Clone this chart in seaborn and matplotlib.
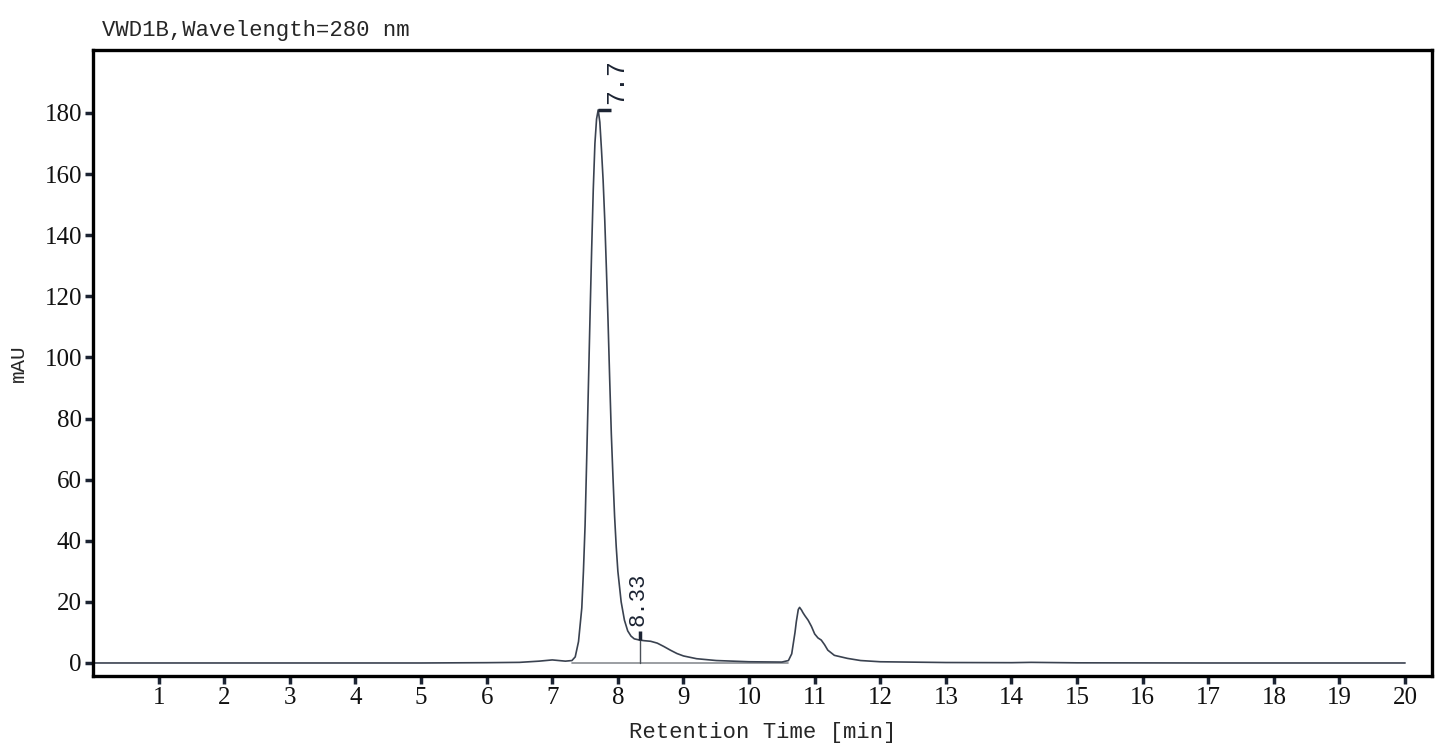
import numpy as np
import pandas as pd
import matplotlib
matplotlib.use("Agg")
import matplotlib.pyplot as plt
import seaborn as sns

# chromatogram trace
time_min = [0, 1, 2, 3, 4, 5, 6, 6.5, 6.8, 7.0, 7.2, 7.3, 7.35, 7.4, 7.45, 7.475,
            7.5, 7.525, 7.55, 7.575, 7.6, 7.625, 7.65, 7.675, 7.7, 7.725, 7.75,
            7.775, 7.8, 7.825, 7.85, 7.875, 7.9, 7.925, 7.95, 7.975, 8.0, 8.05,
            8.1, 8.15, 8.2, 8.25, 8.33, 8.4, 8.5, 8.6, 8.7, 8.8, 8.9, 9.0, 9.2,
            9.5, 10.0, 10.5, 10.6, 10.65, 10.7, 10.72, 10.75, 10.77, 10.8,
            10.82, 10.85, 10.9, 10.95, 11.0, 11.05, 11.1, 11.15, 11.2, 11.3,
            11.5, 11.7, 12.0, 13.0, 14.0, 14.3, 15.0, 17.0, 20.0]
signal_mau = [0, 0, 0, 0, 0, 0, 0.1, 0.2, 0.6, 1.0, 0.6, 0.8, 2, 7, 18, 30,
              45, 67, 90, 113, 135, 155, 170, 178, 181, 177, 168,
              158, 145, 129, 112, 93, 75, 61, 48, 38, 30, 20,
              14, 10.5, 8.8, 7.9, 7.5, 7.3, 7.1, 6.5, 5.4, 4.2, 3.1, 2.3, 1.4,
              0.8, 0.4, 0.3, 0.8, 3, 10, 13.5, 17.5, 18.2, 17.3,
              16.5, 15.5, 14, 12, 9.5, 8.2, 7.5, 6, 4.2, 2.5,
              1.5, 0.8, 0.4, 0.15, 0.1, 0.2, 0.05, 0, 0]

peak_times = [7.7, 8.33]
peak_heights = [181, 7.5]
peak_labels = ["7.7", "8.33"]
baseline_span = [7.3, 10.6]

x_ticks = list(range(1, 21))
y_ticks = list(range(0, 181, 20))

df = pd.DataFrame({"t": time_min, "v": signal_mau})

sns.set_style("ticks")
plt.rcParams["font.family"] = ["Liberation Serif", "DejaVu Serif"]
mono = ["Liberation Mono", "DejaVu Sans Mono"]
ink = "#1c2433"

fig = plt.figure(figsize=(14.45, 7.53), dpi=100)
ax = fig.add_axes([0.0644, 0.1023, 0.9266, 0.8313])

ax.plot(baseline_span, [0, 0], color="#8a8d92", lw=1.2, zorder=1)
sns.lineplot(data=df, x="t", y="v", ax=ax, color="#3a4250", lw=1.2, zorder=2)

# peak markers
ax.plot([peak_times[0], peak_times[0] + 0.2], [peak_heights[0]] * 2,
        color=ink, lw=2.5, solid_capstyle="butt")
ax.text(peak_times[0] + 0.28, peak_heights[0] + 2, peak_labels[0], rotation=90,
        ha="center", va="bottom", fontsize=18, family=mono, color=ink)
ax.plot([peak_times[1]] * 2, [0, peak_heights[1]], color="#4a5058", lw=1.0)
ax.plot([peak_times[1]] * 2, [peak_heights[1], peak_heights[1] + 3],
        color=ink, lw=2.5, solid_capstyle="butt")
ax.text(peak_times[1] - 0.02, peak_heights[1] + 4.5, peak_labels[1], rotation=90,
        ha="center", va="bottom", fontsize=16, family=mono, color=ink)

ax.set_xlim(0, 20.41)
ax.set_ylim(-4.25, 200.6)
ax.set_xticks(x_ticks)
ax.set_yticks(y_ticks)
ax.tick_params(axis="both", direction="out", length=6, width=2.5, color=ink,
               labelsize=18, pad=2, labelcolor="#111111")
for s in ax.spines.values():
    s.set_linewidth(2.4)
    s.set_color("#000000")

ax.set_xlabel("Retention Time [min]", family=mono, fontsize=16, labelpad=9)
ax.set_ylabel("mAU", family=mono, fontsize=15, labelpad=12)
ax.set_title("VWD1B,Wavelength=280 nm", family=mono, fontsize=16, loc="left",
             x=0.007, pad=10)

fig.savefig("out.png", dpi=100, facecolor="white")
